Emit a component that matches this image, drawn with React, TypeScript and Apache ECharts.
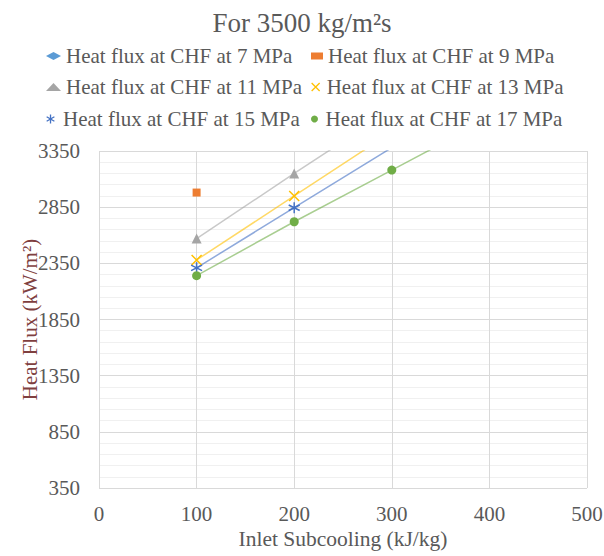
import React, { useEffect, useRef } from 'react';
import * as echarts from 'echarts';

const titleText = 'For 3500 kg/m²s';
const xName = 'Inlet Subcooling (kJ/kg)';
const yName = 'Heat Flux (kW/m²)';

const subcooling = [100, 200, 300, 400];
const hf7: number[] = [];
const hf9 = [2980];
const hf11 = [2570, 3150, 3720];
const hf13 = [2380, 2950, 3520];
const hf15 = [2310, 2845, 3380];
const hf17 = [2240, 2720, 3180, 3640];

const seriesNames = [
  'Heat flux at CHF at 7 MPa',
  'Heat flux at CHF at 9 MPa',
  'Heat flux at CHF at 11 MPa',
  'Heat flux at CHF at 13 MPa',
  'Heat flux at CHF at 15 MPa',
  'Heat flux at CHF at 17 MPa',
];
const seriesValues = [hf7, hf9, hf11, hf13, hf15, hf17];
const colors = ['#5B9BD5', '#ED7D31', '#A5A5A5', '#FFC000', '#4472C4', '#70AD47'];

const X_PATH = 'path://M0,0L10,10M0,10L10,0';
const STAR_PATH = 'path://M5,0L5,10M0.7,2.5L9.3,7.5M0.7,7.5L9.3,2.5';
const symbols = ['diamond', 'rect', 'triangle', X_PATH, STAR_PATH, 'circle'];
const symbolSizes = [9, 8, 10, 10, 11, 9];
const strokeOnly = [false, false, false, true, true, false];

const FONT = '"Liberation Serif", "Times New Roman", serif';
const TEXT = '#595959';

export default function App() {
  const ref = useRef<HTMLDivElement>(null);
  useEffect(() => {
    document.body.style.margin = '0';
    const chart = echarts.init(ref.current!, null, { renderer: 'svg' });

    const series = seriesNames.map((name, i) => ({
      name,
      type: 'line',
      data: seriesValues[i].map((v, j) => [subcooling[j], v]),
      symbol: symbols[i],
      symbolSize: symbolSizes[i],
      showSymbol: true,
      clip: true,
      itemStyle: strokeOnly[i]
        ? { color: colors[i], borderColor: colors[i], borderWidth: 1.5 }
        : { color: colors[i], borderWidth: 0 },
      lineStyle: { color: colors[i], width: 1.5, opacity: 0.6 },
      emphasis: { disabled: true },
    }));

    const legendPos = [
      { left: 46, top: 45, itemWidth: 15 },
      { left: 311, top: 45, itemWidth: 12 },
      { left: 46, top: 76, itemWidth: 15 },
      { left: 311, top: 76, itemWidth: 12 },
      { left: 46, top: 108, itemWidth: 15 },
      { left: 311, top: 108, itemWidth: 12 },
    ];
    const legendIconH = [8, 7, 8, 8, 9, 7];
    const legends = seriesNames.map((name, i) => ({
      show: true,
      left: legendPos[i].left,
      top: legendPos[i].top,
      padding: 0,
      itemWidth: legendPos[i].itemWidth,
      itemHeight: legendIconH[i],
      selectedMode: false,
      textStyle: { color: TEXT, fontFamily: FONT, fontSize: 21, lineHeight: 22 },
      data: [
        {
          name,
          icon: symbols[i],
          itemStyle: strokeOnly[i]
            ? { color: colors[i], borderColor: colors[i], borderWidth: 1.3 }
            : { color: colors[i], borderWidth: 0 },
        },
      ],
    }));

    chart.setOption({
      animation: false,
      title: {
        text: titleText,
        left: 'center',
        top: 4,
        textStyle: { color: TEXT, fontFamily: FONT, fontSize: 27, fontWeight: 'normal' },
      },
      legend: legends,
      grid: { left: 99, right: 17, top: 151, bottom: 68, containLabel: false, outerBoundsMode: 'none' },
      xAxis: {
        type: 'value',
        min: 0,
        max: 500,
        interval: 100,
        name: xName,
        nameLocation: 'middle',
        nameGap: 40,
        nameMoveOverlap: false,
        nameTextStyle: { color: TEXT, fontFamily: FONT, fontSize: 21.5 },
        axisLine: { show: false },
        axisTick: { show: false },
        axisLabel: { color: TEXT, fontFamily: FONT, fontSize: 21, margin: 15, formatter: (v: number) => String(v) },
        splitLine: { show: true, lineStyle: { color: '#D9D9D9', width: 1 } },
      },
      yAxis: {
        type: 'value',
        min: 350,
        max: 3350,
        interval: 500,
        name: yName,
        nameLocation: 'middle',
        nameGap: 59,
        nameMoveOverlap: false,
        nameTextStyle: { color: '#7F3F3F', fontFamily: FONT, fontSize: 21 },
        axisLine: { show: false },
        axisTick: { show: false },
        axisLabel: { color: TEXT, fontFamily: FONT, fontSize: 21, margin: 19, formatter: (v: number) => String(v) },
        splitLine: { show: true, lineStyle: { color: '#D9D9D9', width: 1 } },
        minorTick: { show: false, splitNumber: 5 },
        minorSplitLine: { show: true, lineStyle: { color: '#F0F0F0', width: 1 } },
      },
      series,
    });
    return () => chart.dispose();
  }, []);
  return <div ref={ref} style={{ width: 604, height: 556 }} />;
}
